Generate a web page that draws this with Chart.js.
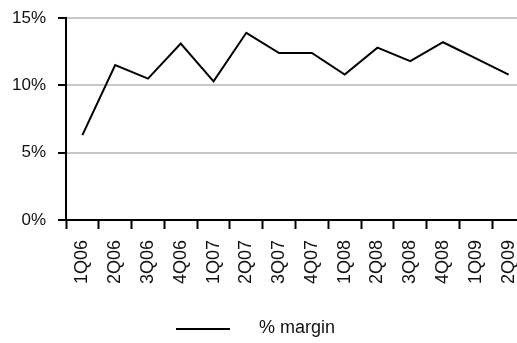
<!DOCTYPE html>
<html>
<head>
<meta charset="utf-8">
<script src="https://cdn.jsdelivr.net/npm/chart.js@4/dist/chart.umd.min.js"></script>
<style>
	html, body { margin: 0; padding: 0; background: #fff; overflow: hidden; }
	#wrap { width: 525px; height: 343px; }
</style>
</head>
<body>
<div id="wrap"><canvas id="chart-margin"></canvas></div>
<script>
// Quarterly margin
const quarters = ['1Q06', '2Q06', '3Q06', '4Q06', '1Q07', '2Q07', '3Q07', '4Q07', '1Q08', '2Q08', '3Q08', '4Q08', '1Q09', '2Q09'];
const margin = [6.3, 11.5, 10.5, 13.1, 10.3, 13.9, 12.4, 12.4, 10.8, 12.8, 11.8, 13.2, 12.0, 10.8];
const yTicks = [0, 5, 10, 15];

const font = '"Liberation Sans", Arial, sans-serif';

// legend under the axis: a short line then the label
const bottomLegend = {
	id: 'bottomLegend',
	afterDraw(chart) {
		const ctx = chart.ctx;
		const ds = chart.data.datasets[0];
		ctx.save();
		ctx.font = '18px ' + font;
		const textW = ctx.measureText(ds.label).width;
		const lineW = 54, gap = 29;
		const x0 = window.innerWidth / 2 - (lineW + gap + textW) / 2 - 3;
		const y = 329;
		ctx.strokeStyle = ds.borderColor;
		ctx.lineWidth = 2;
		ctx.beginPath();
		ctx.moveTo(x0, y);
		ctx.lineTo(x0 + lineW, y);
		ctx.stroke();
		ctx.fillStyle = '#111';
		ctx.textBaseline = 'alphabetic';
		ctx.fillText(ds.label, x0 + lineW + gap, 333);
		ctx.restore();
	},
};

new Chart(document.getElementById('chart-margin'), {
	type: 'line',
	data: {
		labels: quarters,
		datasets: [
			{
				label: '% margin',
				data: margin,
				borderColor: '#000',
				borderWidth: 2,
				pointRadius: 0,
				tension: 0,
			},
		],
	},
	options: {
		responsive: true,
		maintainAspectRatio: false,
		animation: false,
		layout: {
			padding: { top: 18, right: 0, bottom: 43, left: 0 },
		},
		scales: {
			x: {
				offset: true,
				grid: {
					offset: true,
					drawOnChartArea: false,
					drawTicks: true,
					tickLength: 9,
					tickColor: '#000',
					tickWidth: 2,
				},
				border: { color: '#000', width: 2 },
				ticks: {
					minRotation: 90,
					maxRotation: 90,
					autoSkip: false,
					padding: 11,
					color: '#111',
					font: { family: font, size: 18 },
				},
				afterFit(scale) {
					scale.height = 80;
					scale.paddingLeft = 0;
					scale.paddingRight = 0;
				},
			},
			y: {
				min: 0,
				max: 15,
				afterBuildTicks(scale) {
					scale.ticks = yTicks.map(v => ({ value: v }));
				},
				grid: {
					color: '#c8c8c8',
					lineWidth: 2,
					tickColor: '#000',
					tickWidth: 2,
					tickLength: 8,
				},
				border: { color: '#000', width: 2 },
				ticks: {
					padding: 12,
					color: '#111',
					font: { family: font, size: 17 },
					callback: v => v + '%',
				},
				afterFit(scale) {
					scale.width = 66;
					scale.paddingTop = 0;
					scale.paddingBottom = 0;
				},
			},
		},
		plugins: {
			legend: { display: false },
			tooltip: { enabled: false },
		},
	},
	plugins: [bottomLegend],
});
</script>
</body>
</html>
